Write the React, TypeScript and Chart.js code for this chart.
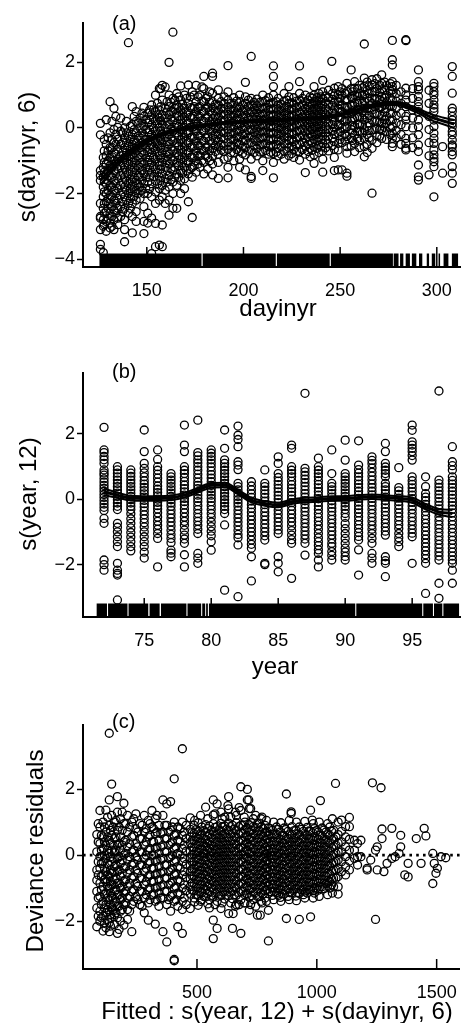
import React, { useEffect, useRef } from "react";
import { Chart, registerables } from "chart.js";

Chart.register(...registerables);

const FONT = '"Liberation Sans", Arial, Helvetica, sans-serif';

// ---------------- Panel (a): partial residuals vs dayinyr ----------------
const dayValues = [126, 127.5, 129, 131, 133, 135, 136.5, 138.5, 140.5, 142.5, 144.5, 146.5, 148.5, 150.5, 152.5, 154.5, 156.5, 158, 159.5, 161.5, 163.5, 165.5, 167.5, 169.5, 171.5, 173.5, 175.5, 177.5, 179.5, 181.5, 184, 187, 190, 192, 195, 198, 201, 204, 207, 210, 213, 215.5, 218, 221, 223.5, 226, 229, 232, 234.5, 236.5, 239, 241, 244, 245.7, 247, 249, 251, 253.5, 255.7, 257.5, 260, 262.5, 264, 266.5, 269, 271.5, 274, 277, 281.5, 284, 287.5, 290.5, 296, 298.5, 303, 308,
  128, 130, 132, 134, 137.5, 139.5, 141.5, 143.5, 145.5, 147.5, 149.5, 151.5, 153.5, 155.5, 157.2, 160.5, 162.5, 164.5, 166.5, 168.5, 170.5, 172.5, 174.5, 176.5, 178.5, 180.5, 182.5,
  185.5, 188.5, 193.5, 196.5, 199.5, 202.5, 205.5, 208.5, 211.5, 214, 217, 219.5, 222.5, 225, 227.5, 230.5, 233.5, 235.5, 238, 240, 242.5, 246,
  250, 252.5, 256.5, 259, 261.5, 265, 268, 270.5, 273, 276, 279];
const dayResiduals = [
  [0.14, -0.21, -1.3, -1.45, -1.6, -2.3, -2.7, -2.75, -3.1, -3.55, -3.7],
  [-0.9, -1.2, -1.5, -1.8, -2.1, -2.45, -2.8, -3.0, -3.8],
  [0.25, -0.5, -0.85, -1.1, -1.4, -1.7, -2.0, -2.25, -2.55, -2.85, -3.15],
  [0.8, -0.15, -0.6, -0.9, -1.15, -1.45, -1.75, -2.05, -2.3, -2.6, -2.9, -3.05],
  [0.6, -0.05, -0.45, -0.75, -1.0, -1.3, -1.6, -1.9, -2.2, -2.5, -2.8, -3.1],
  [0.02, -0.35, -0.65, -0.95, -1.25, -1.55, -1.85, -2.15, -2.45, -2.75, -2.95],
  [0.3, -0.1, -0.5, -0.85, -1.15, -1.45, -1.75, -2.05, -2.4, -2.7],
  [0.0, -0.3, -0.6, -0.9, -1.2, -1.5, -1.8, -2.1, -2.45, -2.8, -3.1, -3.47],
  [2.6, -0.25, -0.55, -0.85, -1.1, -1.4, -1.7, -2.0, -2.3, -2.6],
  [0.65, 0.1, -0.2, -0.5, -0.8, -1.05, -1.35, -1.65, -1.95, -2.3, -2.7, -3.2],
  [0.5, 0.2, -0.15, -0.45, -0.7, -1.0, -1.3, -1.6, -1.9, -2.2, -2.55, -2.85],
  [0.3, 0.0, -0.3, -0.6, -0.9, -1.2, -1.5, -1.8, -2.15],
  [0.63, 0.35, 0.05, -0.25, -0.5, -0.8, -1.1, -1.4, -1.7, -2.0, -2.4, -2.85, -3.22],
  [0.45, 0.15, -0.15, -0.45, -0.75, -1.05, -1.35, -1.65, -2.0, -2.6, -2.9],
  [0.7, 0.4, 0.1, -0.2, -0.5, -0.75, -1.05, -1.35, -1.7, -2.1, -2.75, -3.83],
  [1.0, 0.5, 0.22, -0.08, -0.38, -0.65, -0.95, -1.25, -1.6, -1.95, -2.3, -2.91, -3.62],
  [1.2, 0.55, 0.3, 0.02, -0.28, -0.55, -0.85, -1.15, -1.5, -1.85, -2.2, -3.57],
  [1.3, 0.85, 0.4, 0.12, -0.18, -0.45, -0.75, -1.05, -1.4, -1.75, -2.1, -2.96, -3.62],
  [1.25, 0.6, 0.3, 0.0, -0.3, -0.6, -0.9, -1.2, -1.55, -1.9, -2.3],
  [2.0, 1.0, 0.65, 0.4, 0.1, -0.2, -0.5, -0.8, -1.1, -1.45, -1.8, -2.2, -2.66],
  [2.92, 0.9, 0.5, 0.2, -0.1, -0.4, -0.7, -1.0, -1.3, -1.65, -2.0, -2.45],
  [1.05, 0.7, 0.45, 0.15, -0.15, -0.45, -0.75, -1.05, -1.4, -1.75, -2.45],
  [1.28, 0.85, 0.55, 0.25, -0.05, -0.35, -0.65, -0.95, -1.3, -1.6, -2.0],
  [1.0, 0.6, 0.32, 0.02, -0.28, -0.58, -0.9, -1.2, -1.55, -1.85],
  [1.31, 0.75, 0.45, 0.15, -0.15, -0.45, -0.75, -1.05, -1.4, -2.25],
  [1.1, 0.6, 0.3, 0.02, -0.28, -0.58, -0.9, -1.2, -1.5, -2.73],
  [1.3, 0.8, 0.5, 0.2, -0.1, -0.4, -0.7, -1.0, -1.35],
  [1.0, 0.65, 0.35, 0.05, -0.25, -0.55, -0.85, -1.2],
  [1.57, 1.2, 0.8, 0.5, 0.2, -0.1, -0.4, -0.7, -1.05, -1.4],
  [0.95, 0.62, 0.32, 0.02, -0.28, -0.58, -0.9, -1.25],
  [1.67, 1.57, 1.06, 0.8, 0.62, 0.45, 0.28, 0.1, -0.08, -0.25, -0.45, -0.62, -0.85, -1.1, -1.43],
  [1.16, 0.9, 0.7, 0.52, 0.33, 0.15, -0.02, -0.2, -0.4, -0.58, -0.8, -1.05, -1.54],
  [0.95, 0.75, 0.58, 0.4, 0.22, 0.05, -0.15, -0.33, -0.55, -0.72, -0.95],
  [1.9, 1.1, 0.85, 0.65, 0.48, 0.3, 0.12, -0.06, -0.25, -0.45, -0.65, -0.9, -1.2, -1.52],
  [0.92, 0.74, 0.55, 0.38, 0.2, 0.02, -0.17, -0.36, -0.55, -0.75, -1.0],
  [1.0, 0.8, 0.62, 0.44, 0.26, 0.08, -0.1, -0.28, -0.5, -0.7, -0.95, -1.2],
  [1.39, 0.95, 0.75, 0.56, 0.38, 0.2, 0.02, -0.18, -0.38, -0.6, -0.82, -1.28],
  [2.18, 0.9, 0.7, 0.5, 0.33, 0.15, -0.05, -0.25, -0.45, -0.68, -0.95, -1.54, -1.48],
  [0.88, 0.68, 0.5, 0.32, 0.14, -0.04, -0.22, -0.42, -0.62, -0.85],
  [1.0, 0.8, 0.6, 0.42, 0.24, 0.06, -0.12, -0.3, -0.5, -0.72, -1.0, -1.3],
  [0.92, 0.72, 0.54, 0.36, 0.18, 0.0, -0.18, -0.38, -0.58, -0.8],
  [1.89, 1.57, 1.26, 1.0, 0.78, 0.58, 0.4, 0.22, 0.04, -0.15, -0.35, -0.55, -0.78, -1.05, -1.52],
  [0.9, 0.7, 0.52, 0.34, 0.16, -0.02, -0.2, -0.4, -0.62, -0.85],
  [1.05, 0.82, 0.62, 0.44, 0.26, 0.08, -0.1, -0.28, -0.48, -0.7, -0.95],
  [1.26, 0.95, 0.75, 0.56, 0.38, 0.2, 0.02, -0.18, -0.38, -0.6, -0.85],
  [0.92, 0.72, 0.54, 0.36, 0.18, 0.0, -0.2, -0.42, -0.65, -0.9],
  [1.89, 1.41, 1.05, 0.85, 0.65, 0.47, 0.29, 0.11, -0.08, -0.28, -0.5, -0.72, -0.98],
  [1.0, 0.8, 0.6, 0.42, 0.24, 0.06, -0.12, -0.32, -0.55, -0.8, -1.36],
  [0.95, 0.75, 0.56, 0.38, 0.2, 0.02, -0.18, -0.4, -0.62, -0.88],
  [1.26, 1.0, 0.8, 0.6, 0.42, 0.24, 0.05, -0.15, -0.35, -0.58, -0.82, -1.08],
  [1.05, 0.85, 0.65, 0.47, 0.29, 0.1, -0.1, -0.3, -0.52, -0.75],
  [1.45, 1.1, 0.9, 0.7, 0.5, 0.32, 0.14, -0.05, -0.25, -0.47, -0.7, -0.95, -1.35],
  [1.15, 0.92, 0.72, 0.52, 0.34, 0.15, -0.05, -0.25, -0.48, -0.7],
  [2.03],
  [1.21, 0.98, 0.78, 0.58, 0.4, 0.2, 0.0, -0.2, -0.42, -0.65, -0.9, -1.3],
  [1.26, 1.01, 0.8, 0.6, 0.35, 0.09, -0.16, -0.47, -0.67, -1.28],
  [1.2, 1.0, 0.7, 0.5, 0.25, 0.0, -0.25, -0.45, -1.28],
  [1.36, 1.11, 0.85, 0.65, 0.45, 0.24, 0.04, -0.26, -0.57, -0.77, -1.38, -1.47],
  [1.77, 1.2, 0.95, 0.7, 0.45, 0.2, -0.05, -0.3, -0.55],
  [1.41, 1.21, 1.01, 0.75, 0.55, 0.3, 0.04, -0.21, -0.47, -0.72],
  [1.3, 1.05, 0.85, 0.55, 0.35, 0.1, -0.1, -0.4, -0.6],
  [2.56, 1.52, 1.26, 1.01, 0.8, 0.6, 0.4, 0.24, -0.06, -0.32, -0.57, -0.88],
  [1.4, 1.15, 0.9, 0.6, 0.3, 0.05, -0.2, -0.5, -0.75],
  [1.47, 1.31, 1.11, 0.91, 0.75, 0.55, 0.24, -0.06, -0.37, -0.62, -1.99],
  [1.5, 1.2, 0.9, 0.7, 0.45, 0.2, 0.0, -0.25, -0.45],
  [1.62, 1.36, 1.16, 0.96, 0.8, 0.65, 0.35, 0.14, -0.06, -0.32],
  [1.3, 1.0, 0.8, 0.6, 0.35, 0.15, -0.1, -0.35],
  [2.67, 2.08, 1.92, 1.41, 1.26, 1.16, 1.06, 0.85, 0.65, 0.45, 0.24, 0.04, -0.16, -0.32, -0.47, -0.57],
  [1.1, 0.75, 0.45, 0.1, -0.2, -0.5],
  [2.69, 2.66, 1.21, 1.01, 0.85, 0.65, 0.35, 0.24, 0.04, -0.32, -0.47, -0.62, -0.67],
  [1.2, 0.9, 0.55, 0.3, 0.0, -0.3, -0.6],
  [1.77, 1.41, 1.26, 1.16, 0.96, 0.8, 0.65, 0.5, 0.24, 0.04, -0.21, -0.52, -0.72, -1.13, -1.49, -1.59],
  [1.15, 0.75, 0.35, -0.05, -0.45, -0.85, -1.43],
  [1.36, 1.26, 1.11, 1.01, 0.85, 0.7, 0.6, 0.5, 0.24, 0.04, -0.16, -0.32, -0.47, -0.67, -0.82, -0.93, -1.03, -1.18, -2.1],
  [-0.57, -1.38],
  [1.87, 1.57, 1.06, 0.6, 0.5, 0.35, 0.24, 0.14, 0.04, -0.11, -0.21, -0.37, -0.52, -0.57, -0.72, -0.82, -1.18, -1.38, -1.69],
  // denser early-season band
  [-0.35, -0.7, -1.05, -1.35, -1.65, -1.95, -2.3, -2.6, -2.95],
  [-0.3, -0.7, -1.0, -1.3, -1.6, -1.9, -2.15, -2.45, -2.75],
  [0.2, -0.35, -0.6, -0.88, -1.2, -1.5, -1.8, -2.1, -2.4, -2.7, -3.0],
  [0.35, -0.2, -0.5, -0.8, -1.1, -1.4, -1.7, -2.0, -2.3, -2.6],
  [-0.15, -0.45, -0.75, -1.05, -1.35, -1.65, -1.95, -2.25, -2.55],
  [0.2, -0.15, -0.45, -0.75, -1.05, -1.35, -1.62, -1.9, -2.2],
  [0.05, -0.35, -0.65, -0.95, -1.25, -1.55, -1.85, -2.15, -2.45],
  [0.35, -0.05, -0.35, -0.62, -0.9, -1.2, -1.5, -1.78, -2.08],
  [0.15, -0.25, -0.55, -0.85, -1.15, -1.45, -1.72, -2.0],
  [0.45, 0.15, -0.15, -0.45, -0.75, -1.05, -1.3, -1.6, -1.9],
  [0.25, -0.05, -0.35, -0.62, -0.92, -1.22, -1.5, -1.85],
  [0.55, 0.25, -0.05, -0.35, -0.62, -0.9, -1.2, -1.5, -1.85],
  [0.55, 0.28, -0.02, -0.32, -0.6, -0.9, -1.18, -1.48],
  [0.75, 0.4, 0.12, -0.18, -0.48, -0.75, -1.05, -1.35, -1.7],
  [1.2, 0.65, 0.22, -0.08, -0.35, -0.62, -0.92, -1.25, -1.6],
  [0.8, 0.48, 0.18, -0.12, -0.42, -0.72, -1.0, -1.3, -1.65],
  [0.78, 0.5, 0.25, -0.05, -0.35, -0.65, -0.95, -1.25, -1.58],
  [0.85, 0.6, 0.32, 0.02, -0.28, -0.58, -0.88, -1.2, -1.5],
  [0.95, 0.62, 0.35, 0.05, -0.25, -0.55, -0.85, -1.15, -1.5],
  [0.72, 0.45, 0.15, -0.15, -0.45, -0.75, -1.05, -1.38],
  [0.9, 0.48, 0.2, -0.1, -0.4, -0.7, -1.0, -1.3],
  [0.95, 0.62, 0.32, 0.02, -0.3, -0.6, -0.9, -1.25],
  [1.0, 0.65, 0.35, 0.05, -0.25, -0.55, -0.85, -1.15],
  [0.95, 0.62, 0.34, 0.06, -0.24, -0.54, -0.84, -1.1],
  [1.25, 0.82, 0.52, 0.22, -0.08, -0.38, -0.68, -1.0],
  [0.9, 0.6, 0.3, 0.0, -0.3, -0.6, -0.85],
  [1.1, 0.78, 0.5, 0.2, -0.1, -0.4, -0.7, -1.0],
  // denser mid-season core
  [0.72, 0.52, 0.36, 0.18, 0.0, -0.17, -0.35, -0.53, -0.72],
  [0.8, 0.6, 0.42, 0.24, 0.06, -0.11, -0.3, -0.5, -0.68],
  [0.75, 0.56, 0.38, 0.21, 0.03, -0.16, -0.35, -0.55, -0.75],
  [0.82, 0.64, 0.46, 0.28, 0.1, -0.08, -0.27, -0.46, -0.66],
  [0.7, 0.52, 0.34, 0.16, -0.02, -0.2, -0.39, -0.58, -0.78],
  [0.85, 0.66, 0.47, 0.29, 0.11, -0.08, -0.28, -0.48, -0.7],
  [0.78, 0.6, 0.42, 0.24, 0.06, -0.14, -0.34, -0.54, -0.75],
  [0.78, 0.59, 0.41, 0.23, 0.05, -0.13, -0.32, -0.52, -0.73],
  [0.83, 0.63, 0.45, 0.27, 0.09, -0.09, -0.28, -0.48, -0.69],
  [0.75, 0.57, 0.39, 0.21, 0.03, -0.15, -0.34, -0.54, -0.74],
  [0.8, 0.61, 0.43, 0.25, 0.07, -0.11, -0.3, -0.5, -0.73],
  [0.72, 0.53, 0.35, 0.17, -0.01, -0.19, -0.38, -0.58, -0.8],
  [0.85, 0.66, 0.47, 0.29, 0.11, -0.07, -0.27, -0.48, -0.7],
  [0.76, 0.57, 0.39, 0.21, 0.03, -0.16, -0.36, -0.56, -0.78],
  [0.82, 0.63, 0.45, 0.27, 0.09, -0.1, -0.3, -0.5, -0.72],
  [0.9, 0.7, 0.52, 0.33, 0.15, -0.04, -0.24, -0.44, -0.66],
  [0.85, 0.66, 0.47, 0.29, 0.11, -0.08, -0.28, -0.5, -0.72],
  [0.9, 0.7, 0.51, 0.33, 0.14, -0.05, -0.25, -0.46, -0.68],
  [0.92, 0.73, 0.55, 0.37, 0.19, 0.0, -0.2, -0.4, -0.62],
  [0.95, 0.78, 0.6, 0.41, 0.23, 0.04, -0.15, -0.36, -0.58],
  [0.98, 0.8, 0.61, 0.43, 0.24, 0.05, -0.15, -0.36, -0.6],
  [1.05, 0.87, 0.68, 0.49, 0.3, 0.1, -0.1, -0.31, -0.54],
  // denser late-season core
  [1.1, 0.9, 0.7, 0.5, 0.3, 0.1, -0.1, -0.35],
  [1.05, 0.85, 0.62, 0.42, 0.2, 0.0, -0.2, -0.4],
  [1.1, 0.9, 0.68, 0.48, 0.27, 0.07, -0.15, -0.38],
  [1.2, 0.98, 0.76, 0.55, 0.33, 0.12, -0.1, -0.32],
  [1.22, 0.98, 0.75, 0.52, 0.3, 0.1, -0.15],
  [1.28, 1.05, 0.82, 0.6, 0.38, 0.15, -0.08, -0.3],
  [1.35, 1.1, 0.87, 0.64, 0.42, 0.2, -0.05],
  [1.3, 1.08, 0.86, 0.62, 0.4, 0.18, -0.05, -0.25],
  [1.4, 1.15, 0.92, 0.7, 0.48, 0.25, 0.02],
  [1.35, 1.12, 0.9, 0.68, 0.45, 0.22, 0.0, -0.2],
  [1.3, 1.05, 0.82, 0.6, 0.38, 0.15, -0.08, -0.3],
];
const dayFitX = [126, 133, 140, 147, 155, 163, 171, 180, 190, 200, 210, 220, 230, 240, 250, 258, 265, 272, 279, 285, 291, 297, 303, 309];
const dayFit = [-1.59, -1.15, -0.8, -0.5, -0.26, -0.1, 0.0, 0.08, 0.15, 0.19, 0.21, 0.24, 0.27, 0.31, 0.4, 0.52, 0.64, 0.73, 0.75, 0.65, 0.5, 0.33, 0.22, 0.12];
const dayFitUpper = [-1.45, -1.05, -0.72, -0.44, -0.21, -0.06, 0.04, 0.11, 0.18, 0.22, 0.24, 0.27, 0.3, 0.34, 0.43, 0.56, 0.68, 0.78, 0.8, 0.71, 0.57, 0.42, 0.32, 0.24];
const dayFitLower = [-1.73, -1.25, -0.88, -0.56, -0.31, -0.14, -0.04, 0.05, 0.12, 0.16, 0.18, 0.21, 0.24, 0.28, 0.37, 0.48, 0.6, 0.68, 0.7, 0.59, 0.43, 0.24, 0.12, 0.0];
const dayTicks = [150, 200, 250, 300];
const dayYTicks = [-4, -2, 0, 2];
const dayRugSpans = [[125.5, 178.3], [178.9, 216.7], [217.3, 244.6], [245.2, 277.3], [277.7, 280.2], [281, 282.7], [283.9, 286.1], [287.1, 289.4], [290.8, 292.5], [294.8, 296], [297.4, 299.2], [300.9, 301.7], [303.5, 306], [307.8, 311]];

// ---------------- Panel (b): partial residuals vs year ----------------
const yearValues = [72, 73, 74, 75, 76, 77, 78, 79, 80, 81, 82, 83, 84, 85, 86, 87, 88, 89, 90, 91, 92, 93, 94, 95, 96, 97, 98];
const yearResiduals = [
  [2.19, 1.5, 1.42, 1.3, 1.2, 1.09, 0.89, 0.8, 0.73, 0.62, 0.52, 0.42, 0.33, 0.24, 0.14, 0.05, -0.05, -0.15, -0.25, -0.35, -0.59, -0.74, -1.86, -2.0, -2.17],
  [0.99, 0.89, 0.79, 0.68, 0.58, 0.48, 0.38, 0.28, 0.18, 0.08, -0.02, -0.12, -0.22, -0.32, -0.74, -0.86, -1.0, -1.15, -1.3, -1.45, -1.96, -2.17, -2.27, -2.32, -3.08],
  [0.89, 0.79, 0.69, 0.58, 0.48, 0.38, 0.28, 0.18, 0.08, -0.02, -0.12, -0.22, -0.32, -0.45, -0.6, -0.74, -0.88, -1.02, -1.16, -1.3, -1.45, -1.58],
  [2.11, 1.45, 1.09, 0.94, 0.8, 0.68, 0.56, 0.46, 0.36, 0.26, 0.16, 0.06, -0.04, -0.14, -0.24, -0.36, -0.48, -0.6, -0.72, -0.85, -1.0, -1.15, -1.3, -1.45, -1.62, -1.8],
  [1.5, 1.21, 0.99, 0.88, 0.76, 0.64, 0.52, 0.4, 0.3, 0.2, 0.1, 0.0, -0.1, -0.2, -0.3, -0.42, -0.55, -0.68, -0.8, -0.92, -1.05, -1.2, -2.07],
  [0.78, 0.68, 0.58, 0.48, 0.38, 0.28, 0.18, 0.08, -0.02, -0.12, -0.22, -0.34, -0.46, -0.58, -0.7, -0.82, -0.95, -1.08, -1.2, -1.33, -1.56, -1.65, -1.76],
  [2.26, 1.65, 1.45, 0.99, 0.88, 0.78, 0.66, 0.54, 0.43, 0.32, 0.22, 0.12, 0.02, -0.08, -0.18, -0.3, -0.42, -0.55, -0.68, -0.8, -0.95, -1.1, -1.22, -1.35, -1.7, -2.07],
  [2.41, 1.42, 1.32, 1.2, 1.1, 0.99, 0.88, 0.76, 0.64, 0.52, 0.42, 0.32, 0.22, 0.12, 0.02, -0.08, -0.2, -0.32, -0.44, -0.56, -0.68, -0.8, -0.92, -1.05, -1.66, -1.8, -1.96],
  [1.5, 1.4, 1.3, 1.2, 1.09, 0.98, 0.86, 0.75, 0.64, 0.53, 0.42, 0.32, 0.22, 0.12, 0.02, -0.08, -0.2, -0.32, -0.44, -0.56, -0.7, -0.84, -0.98, -1.12, -1.3, -1.56],
  [2.11, 1.55, 1.2, 1.09, 0.98, 0.88, 0.78, 0.68, 0.58, 0.48, 0.38, 0.28, 0.18, 0.08, -0.02, -0.12, -0.22, -0.32, -0.44, -0.79, -2.78],
  [2.23, 1.95, 1.82, 1.6, 1.14, 1.04, 0.9, 0.48, 0.38, 0.28, 0.18, 0.08, -0.02, -0.12, -0.22, -0.34, -0.46, -0.58, -0.7, -0.82, -0.95, -1.08, -1.18, -1.4, -2.98],
  [0.53, 0.4, 0.28, 0.16, 0.05, -0.06, -0.17, -0.28, -0.4, -0.52, -0.64, -0.76, -0.88, -1.0, -1.12, -1.25, -1.38, -1.5, -1.76, -2.5],
  [0.89, 0.48, 0.38, 0.27, 0.16, 0.05, -0.06, -0.17, -0.28, -0.4, -0.52, -0.64, -0.76, -0.88, -1.0, -1.12, -1.25, -1.96, -2.0],
  [1.29, 1.09, 0.78, 0.66, 0.55, 0.44, 0.33, 0.22, 0.11, 0.0, -0.11, -0.22, -0.34, -0.46, -0.58, -0.7, -0.82, -0.94, -1.05, -1.76, -1.96, -2.22],
  [1.65, 1.55, 0.99, 0.88, 0.78, 0.68, 0.55, 0.44, 0.33, 0.22, 0.11, 0.0, -0.11, -0.22, -0.34, -0.46, -0.58, -0.7, -0.82, -0.96, -1.1, -1.24, -1.35, -2.42],
  [3.23, 0.94, 0.83, 0.72, 0.61, 0.5, 0.39, 0.28, 0.17, 0.06, -0.05, -0.16, -0.27, -0.38, -0.5, -0.62, -0.74, -0.86, -0.98, -1.1, -1.22, -1.35, -1.71],
  [1.25, 0.99, 0.88, 0.78, 0.68, 0.56, 0.45, 0.34, 0.23, 0.12, 0.01, -0.1, -0.21, -0.32, -0.44, -0.56, -0.68, -0.8, -0.92, -1.05, -1.18, -1.3, -1.42, -1.55, -1.66, -1.86, -2.07],
  [1.5, 0.78, 0.48, 0.38, 0.28, 0.17, 0.06, -0.05, -0.16, -0.27, -0.38, -0.5, -0.62, -0.74, -0.86, -0.98, -1.1, -1.22, -1.35, -1.45, -1.6, -1.72, -1.86],
  [1.8, 1.19, 0.78, 0.68, 0.58, 0.48, 0.38, 0.28, 0.18, 0.08, -0.02, -0.12, -0.22, -0.32, -0.44, -0.56, -0.75, -0.9, -1.05, -1.2, -1.35, -1.5, -1.62, -1.75, -1.86],
  [1.78, 1.04, 0.9, 0.79, 0.68, 0.57, 0.46, 0.35, 0.24, 0.13, 0.02, -0.09, -0.2, -0.31, -0.42, -0.54, -0.66, -0.78, -0.9, -1.02, -1.14, -1.25, -1.55, -2.32],
  [1.29, 1.18, 1.08, 0.95, 0.82, 0.7, 0.58, 0.46, 0.35, 0.24, 0.13, 0.02, -0.09, -0.2, -0.32, -0.44, -0.56, -0.68, -0.8, -0.92, -1.05, -1.2, -1.35, -1.66, -1.8, -1.96],
  [1.7, 1.45, 1.09, 0.98, 0.88, 0.78, 0.68, 0.48, 0.38, 0.28, 0.17, 0.06, -0.05, -0.16, -0.27, -0.38, -0.5, -0.62, -0.74, -0.86, -0.98, -1.1, -1.76, -1.88, -1.96, -2.37],
  [0.96, 0.35, 0.25, 0.14, 0.03, -0.08, -0.19, -0.3, -0.42, -0.54, -0.66, -0.78, -0.9, -1.05, -1.18, -1.3, -1.45],
  [2.26, 2.1, 1.75, 1.65, 1.55, 1.45, 1.33, 1.19, 0.68, 0.56, 0.45, 0.34, 0.23, 0.12, 0.01, -0.1, -0.21, -0.32, -0.44, -0.56, -0.68, -0.8, -0.92, -1.04, -1.15, -1.96],
  [0.68, 0.38, 0.17, 0.06, -0.05, -0.16, -0.27, -0.38, -0.5, -0.62, -0.74, -0.86, -0.98, -1.1, -1.22, -1.34, -1.46, -1.58, -1.7, -1.82, -1.96, -2.88],
  [3.3, 0.58, 0.47, 0.36, 0.25, 0.14, 0.03, -0.08, -0.19, -0.3, -0.42, -0.54, -0.66, -0.78, -0.9, -1.02, -1.14, -1.26, -1.38, -1.5, -1.62, -1.74, -1.86, -2.57, -3.03],
  [1.6, 1.14, 1.02, 0.89, 0.68, 0.57, 0.46, 0.35, 0.24, 0.13, 0.02, -0.09, -0.2, -0.31, -0.42, -0.54, -0.66, -0.78, -0.9, -1.02, -1.14, -1.26, -1.38, -1.5, -1.62, -1.74, -1.86, -1.96, -2.17, -2.57],
];
const yearFit = [0.22, 0.12, 0.03, 0.02, 0.02, 0.04, 0.12, 0.27, 0.42, 0.43, 0.22, -0.03, -0.13, -0.18, -0.08, -0.03, -0.01, 0.02, 0.02, 0.05, 0.07, 0.05, 0.02, -0.03, -0.23, -0.39, -0.44];
const yearFitUpper = [0.32, 0.2, 0.1, 0.09, 0.09, 0.11, 0.19, 0.34, 0.49, 0.5, 0.29, 0.04, -0.06, -0.11, -0.01, 0.04, 0.06, 0.09, 0.09, 0.12, 0.14, 0.12, 0.09, 0.05, -0.15, -0.3, -0.33];
const yearFitLower = [0.12, 0.04, -0.04, -0.05, -0.05, -0.03, 0.05, 0.2, 0.35, 0.36, 0.15, -0.1, -0.2, -0.25, -0.15, -0.1, -0.08, -0.05, -0.05, -0.02, 0.0, -0.02, -0.05, -0.11, -0.31, -0.48, -0.55];
const yearTicks = [75, 80, 85, 90, 95];
const yearYTicks = [-2, 0, 2];
const yearRugSpans = [[71.45, 72.22], [72.3, 73.75], [73.83, 75.3], [75.4, 76.15], [76.25, 78.15], [78.23, 79.25], [79.33, 79.55], [79.62, 79.75], [79.83, 90.75], [90.83, 95.75], [95.83, 96.55], [96.63, 97.25], [97.33, 98.5]];

// ---------------- Panel (c): deviance residuals vs fitted ----------------
const fittedValues = [82, 95, 108, 120, 134, 144, 156, 168, 181, 195, 210, 228, 245, 262, 280, 297, 312, 326, 341, 358, 374, 390, 405, 420, 439, 455, 472, 488, 505, 520, 536, 552, 568, 584, 600, 616, 632, 648, 664, 683, 700, 710, 718, 735, 752, 768, 784, 798, 815, 832, 848, 864, 873, 880, 893, 897, 913, 927, 944, 960, 974, 981, 990, 1006, 1015, 1022, 1038, 1054, 1070, 1078, 1089, 1103, 1120, 1136, 1157, 1170, 1184, 1210, 1225, 1232, 1245, 1252, 1268, 1272, 1280, 1293, 1313, 1327, 1343, 1350, 1367, 1381, 1415, 1435, 1448, 1455, 1484, 1490, 1497, 1503, 1518, 1538,
  88, 101, 114, 127, 139, 150, 162, 175, 188, 202, 219, 236, 253, 271, 288, 304, 319, 333, 349, 366, 382, 397, 412, 430, 447,
  480, 496, 512, 528, 544, 560, 576, 592, 608, 624, 640, 656, 674, 692, 709, 726, 744, 760, 776, 791, 806, 823, 840, 856, 871, 888, 905, 920, 936, 952, 967, 983, 998, 1014, 1030, 1046, 1062, 1080,
  490, 515, 545, 575, 605, 629, 641, 651, 660, 676, 697, 716, 724, 745, 764, 771, 790, 820, 850, 885, 915, 950, 985, 1010, 1045, 1065];
const devianceResiduals = [
  [0.62, 0.1, -0.45, -0.76, -1.1, -1.6, -2.17],
  [1.35, 0.85, 0.35, -0.05, -0.4, -0.85, -1.25, -1.7, -2.0],
  [1.0, 0.55, 0.2, -0.2, -0.6, -0.95, -1.4, -1.85, -2.3],
  [1.36, 0.7, 0.3, -0.1, -0.5, -0.8, -1.15, -1.5, -1.75, -2.2],
  [3.69, 1.67, 0.9, 0.45, 0.05, -0.3, -0.65, -1.0, -1.35, -1.7, -2.05, -2.32],
  [2.15, 1.2, 0.6, 0.15, -0.2, -0.55, -0.9, -1.25, -1.6, -1.9],
  [1.0, 0.5, 0.1, -0.35, -0.75, -1.1, -1.45, -1.8, -2.1],
  [1.77, 1.3, 0.75, 0.3, -0.1, -0.5, -0.85, -1.2, -1.55, -1.9, -2.37],
  [1.1, 0.55, 0.15, -0.25, -0.65, -1.0, -1.35, -1.7, -2.0],
  [1.57, 0.95, 0.4, 0.0, -0.4, -0.8, -1.15, -1.5, -2.12],
  [1.2, 0.7, 0.25, -0.15, -0.55, -0.95, -1.3, -1.65, -1.95],
  [1.0, 0.55, 0.1, -0.3, -0.7, -1.1, -1.5, -2.32],
  [1.25, 0.8, 0.35, -0.05, -0.45, -0.85, -1.25],
  [0.95, 0.5, 0.1, -0.3, -0.7, -1.1, -1.5],
  [1.2, 0.7, 0.3, -0.1, -0.5, -0.9, -1.3, -1.75],
  [1.05, 0.55, 0.15, -0.25, -0.65, -1.05, -1.45, -1.97],
  [1.35, 0.85, 0.4, 0.0, -0.4, -0.8, -1.2],
  [1.1, 0.65, 0.2, -0.2, -0.6, -1.0, -1.4, -2.09],
  [0.9, 0.45, 0.05, -0.35, -0.75, -1.15, -1.55],
  [1.67, 1.2, 0.7, 0.3, -0.1, -0.5, -0.9, -1.3, -2.32],
  [1.55, 0.9, 0.5, 0.1, -0.3, -0.7, -1.1, -1.5, -2.63],
  [1.62, 0.75, 0.35, -0.05, -0.45, -0.85, -1.25, -1.7],
  [2.31, 1.0, 0.6, 0.2, -0.2, -0.6, -1.0, -1.4, -3.16, -3.2],
  [0.85, 0.45, 0.05, -0.35, -0.75, -1.15, -1.55, -2.17],
  [3.22, 1.0, 0.6, 0.2, -0.2, -0.6, -1.0, -1.4, -1.65, -2.37],
  [0.9, 0.5, 0.12, -0.28, -0.68, -1.08, -1.5],
  [1.13, 0.78, 0.55, 0.37, 0.12, -0.08, -0.31, -0.5, -0.72, -0.95, -1.18, -1.62],
  [0.9, 0.66, 0.44, 0.22, 0.02, -0.2, -0.41, -0.63, -0.86, -1.09, -1.3],
  [0.98, 0.72, 0.5, 0.3, 0.08, -0.13, -0.35, -0.56, -0.78, -1.0, -1.22, -1.52],
  [0.85, 0.6, 0.38, 0.17, -0.04, -0.26, -0.47, -0.69, -0.9, -1.14, -1.35],
  [1.45, 0.92, 0.7, 0.47, 0.26, 0.05, -0.16, -0.38, -0.6, -0.82, -1.05, -1.27],
  [0.88, 0.63, 0.4, 0.2, -0.02, -0.24, -0.45, -0.66, -0.88, -1.1, -1.35, -1.6],
  [1.67, 1.21, 0.95, 0.72, 0.5, 0.28, 0.07, -0.14, -0.36, -0.57, -0.8, -1.02, -1.25, -1.97, -2.53],
  [1.55, 0.86, 0.62, 0.4, 0.18, -0.03, -0.24, -0.46, -0.68, -0.9, -1.13, -1.4, -2.22],
  [1.3, 0.96, 0.73, 0.51, 0.3, 0.09, -0.12, -0.34, -0.55, -0.77, -1.0, -1.22, -1.62],
  [1.15, 0.88, 0.64, 0.42, 0.2, -0.01, -0.22, -0.44, -0.66, -0.88, -1.1, -1.33],
  [1.77, 1.4, 0.97, 0.75, 0.53, 0.31, 0.1, -0.12, -0.33, -0.55, -0.77, -1.0, -1.23, -1.77],
  [0.9, 0.66, 0.44, 0.22, 0.0, -0.22, -0.43, -0.65, -0.87, -1.09, -1.32, -2.22],
  [1.2, 0.98, 0.75, 0.53, 0.31, 0.1, -0.12, -0.34, -0.56, -0.78, -1.0, -1.22, -1.5],
  [2.07, 1.35, 0.9, 0.66, 0.44, 0.22, 0.01, -0.21, -0.43, -0.65, -0.87, -1.1, -1.35, -2.37],
  [1.0, 0.77, 0.55, 0.33, 0.12, -0.1, -0.32, -0.54, -0.76, -0.98, -1.2, -1.45],
  [1.99, 1.67],
  [1.41, 0.92, 0.7, 0.48, 0.26, 0.05, -0.17, -0.39, -0.61, -0.83, -1.05, -1.28, -1.67],
  [1.1, 0.86, 0.64, 0.42, 0.2, -0.02, -0.24, -0.46, -0.68, -0.9, -1.12, -1.35],
  [0.95, 0.73, 0.51, 0.29, 0.08, -0.14, -0.36, -0.58, -0.8, -1.02, -1.25, -1.82],
  [1.1, 0.85, 0.62, 0.4, 0.18, -0.03, -0.25, -0.47, -0.69, -0.91, -1.14, -1.4],
  [0.9, 0.68, 0.46, 0.24, 0.03, -0.19, -0.41, -0.63, -0.85, -1.07, -1.3],
  [0.82, 0.6, 0.38, 0.16, -0.05, -0.27, -0.49, -0.71, -0.93, -1.16, -1.67, -2.6],
  [0.75, 0.52, 0.3, 0.09, -0.12, -0.34, -0.56, -0.78, -1.0, -1.22],
  [0.85, 0.62, 0.4, 0.18, -0.03, -0.25, -0.47, -0.69, -0.91, -1.14],
  [0.7, 0.48, 0.26, 0.05, -0.17, -0.39, -0.61, -0.83, -1.05, -1.28],
  [0.82, 0.58, 0.36, 0.14, -0.07, -0.29, -0.51, -0.73, -0.95, -1.18],
  [1.85, -1.92],
  [0.72, 0.5, 0.28, 0.06, -0.15, -0.37, -0.59, -0.81, -1.03, -1.25],
  [1.31, 1.26],
  [0.86, 0.62, 0.4, 0.18, -0.04, -0.26, -0.48, -0.7, -0.92, -1.14],
  [0.75, 0.52, 0.3, 0.08, -0.14, -0.36, -0.58, -0.8, -1.02, -1.24],
  [0.85, 0.6, 0.38, 0.16, -0.06, -0.28, -0.5, -0.72, -0.94, -1.16, -1.95],
  [0.72, 0.5, 0.28, 0.06, -0.16, -0.38, -0.6, -0.82, -1.04, -1.2],
  [0.84, 0.6, 0.38, 0.16, -0.06, -0.28, -0.5, -0.72, -0.94, -1.15],
  [1.36, 0.72, 0.5, 0.28, 0.06, -0.16, -0.38, -0.6, -0.82, -1.04, -1.87],
  [1.06],
  [0.8, 0.56, 0.34, 0.12, -0.1, -0.32, -0.54, -0.76, -0.98, -1.15],
  [0.7, 0.48, 0.26, 0.04, -0.18, -0.4, -0.62, -0.84, -1.06],
  [1.65],
  [0.82, 0.58, 0.36, 0.14, -0.08, -0.3, -0.52, -0.74, -0.96],
  [0.7, 0.46, 0.24, 0.02, -0.2, -0.42, -0.64, -0.86],
  [0.85, 0.6, 0.36, 0.12, -0.1, -0.34, -0.58, -0.8, -1.0],
  [0.75, 0.5, 0.26, 0.02, -0.22, -0.46, -0.7, -0.96],
  [2.17],
  [1.0, 0.62, 0.36, 0.1, -0.15, -0.4, -0.65, -0.96, -1.18],
  [1.06, 0.72, 0.4, 0.1, -0.2, -0.5],
  [0.86, 0.55, 0.25, -0.05, -0.35, -0.6],
  [1.14, 0.86, 0.48, 0.15, -0.18, -0.45],
  [0.45, 0.15, -0.1],
  [0.35, -0.05, -0.3],
  [0.45, -0.05],
  [-0.4, -0.45],
  [-0.15],
  [2.19],
  [0.15, -1.95],
  [0.25, -0.45],
  [2.04],
  [0.79, 0.5],
  [-0.5],
  [-0.25],
  [0.81, -0.1],
  [-0.05],
  [0.05],
  [0.6, 0.25],
  [-0.6],
  [-0.66, -0.25],
  [0.5],
  [-0.25],
  [0.81],
  [0.58],
  [0.05, -0.86],
  [-0.25],
  [-0.55],
  [-0.4],
  [-0.05],
  [-0.08],
  // denser low-fitted region
  [0.95, 0.4, -0.2, -0.6, -1.3, -1.85],
  [0.6, 0.15, -0.25, -0.65, -1.05, -1.5, -1.9],
  [0.85, 0.4, 0.0, -0.4, -0.75, -1.2, -1.6, -2.05],
  [1.15, 0.55, 0.15, -0.25, -0.6, -0.95, -1.3, -1.65, -1.95],
  [0.75, 0.35, -0.05, -0.45, -0.8, -1.15, -1.5, -1.8, -2.15],
  [0.85, 0.3, -0.1, -0.5, -0.9, -1.3, -1.65],
  [1.05, 0.55, 0.15, -0.3, -0.7, -1.05, -1.4, -1.75],
  [0.85, 0.35, -0.05, -0.45, -0.85, -1.2, -1.55, -2.25],
  [1.3, 0.75, 0.3, -0.15, -0.55, -0.95, -1.3, -1.65],
  [0.95, 0.45, 0.05, -0.35, -0.75, -1.1, -1.45],
  [0.85, 0.35, -0.05, -0.45, -0.85, -1.25, -1.7],
  [1.1, 0.6, 0.15, -0.25, -0.65, -1.05, -1.4],
  [0.7, 0.25, -0.15, -0.55, -0.95, -1.35],
  [0.9, 0.5, 0.1, -0.3, -0.7, -1.1, -1.55],
  [0.8, 0.4, 0.0, -0.4, -0.8, -1.2],
  [0.95, 0.6, 0.2, -0.2, -0.6, -1.0, -1.35],
  [0.8, 0.4, 0.0, -0.4, -0.8, -1.2],
  [1.2, 0.7, 0.25, -0.15, -0.55, -0.95, -1.35],
  [0.65, 0.25, -0.15, -0.55, -0.95, -1.3],
  [0.9, 0.5, 0.1, -0.3, -0.7, -1.1],
  [0.7, 0.3, -0.1, -0.5, -0.9, -1.35],
  [0.85, 0.4, 0.0, -0.4, -0.8, -1.2],
  [0.65, 0.25, -0.15, -0.55, -0.95, -1.35],
  [0.8, 0.4, 0.0, -0.4, -0.8, -1.2],
  [0.7, 0.3, -0.1, -0.5, -0.9, -1.3],
  // denser central core
  [0.68, 0.45, 0.24, 0.01, -0.21, -0.42, -0.63, -0.84, -1.06],
  [0.77, 0.55, 0.33, 0.11, -0.1, -0.31, -0.52, -0.74, -0.97, -1.2],
  [0.62, 0.4, 0.19, -0.02, -0.24, -0.46, -0.67, -0.89, -1.1],
  [0.74, 0.5, 0.28, 0.06, -0.15, -0.37, -0.58, -0.8, -1.02, -1.25],
  [0.8, 0.58, 0.36, 0.15, -0.06, -0.28, -0.5, -0.72, -0.94, -1.16],
  [0.75, 0.52, 0.3, 0.09, -0.12, -0.34, -0.55, -0.77, -0.99, -1.22],
  [0.84, 0.61, 0.39, 0.17, -0.04, -0.25, -0.47, -0.69, -0.91, -1.14],
  [0.74, 0.52, 0.3, 0.08, -0.13, -0.35, -0.57, -0.79, -1.01, -1.24],
  [0.85, 0.62, 0.4, 0.19, -0.02, -0.23, -0.45, -0.66, -0.88, -1.11],
  [0.77, 0.53, 0.31, 0.09, -0.12, -0.33, -0.55, -0.77, -0.99, -1.21],
  [0.86, 0.64, 0.42, 0.2, -0.01, -0.22, -0.44, -0.66, -0.88, -1.12],
  [0.78, 0.55, 0.33, 0.11, -0.11, -0.33, -0.54, -0.76, -0.98, -1.2],
  [0.86, 0.64, 0.42, 0.2, -0.01, -0.23, -0.45, -0.67, -0.89, -1.13],
  [0.9, 0.66, 0.44, 0.22, 0.01, -0.21, -0.43, -0.65, -0.87, -1.09],
  [0.82, 0.59, 0.37, 0.15, -0.06, -0.28, -0.5, -0.72, -0.94, -1.17],
  [0.98, 0.75, 0.53, 0.31, 0.09, -0.13, -0.35, -0.57, -0.79, -1.01, -1.23],
  [0.84, 0.62, 0.4, 0.18, -0.03, -0.25, -0.47, -0.69, -0.91, -1.13],
  [0.97, 0.73, 0.51, 0.29, 0.07, -0.14, -0.36, -0.58, -0.8, -1.02, -1.26],
  [0.8, 0.57, 0.35, 0.13, -0.08, -0.3, -0.52, -0.74, -0.96, -1.18],
  [0.71, 0.49, 0.27, 0.05, -0.16, -0.38, -0.6, -0.82, -1.04],
  [0.8, 0.63, 0.41, 0.19, -0.02, -0.23, -0.45, -0.67, -0.89, -1.11],
  [0.64, 0.41, 0.19, -0.02, -0.23, -0.45, -0.67, -0.89, -1.11],
  [0.78, 0.51, 0.29, 0.07, -0.14, -0.36, -0.58, -0.8, -1.02, -1.22],
  [0.6, 0.37, 0.15, -0.06, -0.28, -0.5, -0.72, -0.94, -1.16],
  [0.77, 0.47, 0.25, 0.03, -0.18, -0.4, -0.62, -0.84, -1.06],
  [0.62, 0.39, 0.17, -0.05, -0.26, -0.48, -0.7, -0.92, -1.14],
  [0.74, 0.51, 0.29, 0.07, -0.15, -0.37, -0.59, -0.81, -1.03],
  [0.64, 0.41, 0.19, -0.03, -0.25, -0.47, -0.69, -0.91, -1.13],
  [0.78, 0.49, 0.27, 0.05, -0.17, -0.39, -0.61, -0.83, -1.05],
  [0.62, 0.39, 0.17, -0.05, -0.27, -0.49, -0.71, -0.93, -1.12],
  [0.73, 0.49, 0.27, 0.05, -0.17, -0.39, -0.61, -0.83, -1.05],
  [0.67, 0.45, 0.23, 0.01, -0.21, -0.43, -0.65, -0.87, -1.08],
  [0.74, 0.52, 0.3, 0.08, -0.14, -0.36, -0.58, -0.8, -1.0],
  [0.6, 0.37, 0.15, -0.07, -0.29, -0.51, -0.73, -0.95],
  [0.76, 0.47, 0.25, 0.03, -0.19, -0.41, -0.63, -0.85, -1.02],
  [0.62, 0.38, 0.14, -0.1, -0.32, -0.54, -0.76, -0.92],
  [0.72, 0.47, 0.23, -0.01, -0.24, -0.48, -0.72, -0.9],
  [0.55, 0.3, 0.05, -0.2, -0.45, -0.7],
  // ragged edges of the core
  [1.05, -1.42],
  [1.2, -1.4],
  [1.1, -1.48],
  [1.25, -1.5],
  [1.1, -1.45],
  [1.5],
  [1.15, -1.45],
  [-1.77],
  [1.3, -1.55],
  [1.44, -1.5],
  [1.15, -1.45],
  [1.67],
  [1.41, -1.5],
  [1.2, -1.55],
  [-1.82],
  [1.15, -1.45],
  [1.05, -1.4],
  [1.0, -1.35],
  [0.98, -1.4],
  [1.05, -1.35],
  [1.0, -1.38],
  [1.02, -1.3],
  [0.95, -1.3],
  [1.0, -1.25],
  [0.95, -1.2],
  [1.1, -1.15],
];
const fittedTicks = [500, 1000, 1500];
const devianceYTicks = [-2, 0, 2];

// axis limits (data units)
const dayRange = { xMin: 117, xMax: 312, yMin: -4.24, yMax: 3.2 };
const yearRange = { xMin: 70.43, xMax: 98.57, yMin: -3.6, yMax: 3.85 };
const fittedRange = { xMin: 24.4, xMax: 1597, yMin: -3.45, yMax: 3.94 };

type Pt = { x: number; y: number };
type LineSpec = { data: Pt[]; width: number; dash?: number[] };
type PanelSpec = {
  top: number;
  height: number;
  rightPad: number;
  range: { xMin: number; xMax: number; yMin: number; yMax: number };
  xTicks: number[];
  yTicks: number[];
  points: Pt[];
  lines: LineSpec[];
  rug: number[][] | null;
  inTick: number;
  label: string;
  labelY: number;
  xTitle: string;
  xTitleX: number;
  xTitleY: number;
  yTitle: string;
  yTitleX: number;
  yTitleY: number;
};

const toPoints = (xs: number[], cols: number[][]): Pt[] =>
  xs.flatMap((x, i) => (cols[i] || []).map((y) => ({ x, y })));
const toLine = (xs: number[], ys: number[]): Pt[] => xs.map((x, i) => ({ x, y: ys[i] }));

const panels: PanelSpec[] = [
  {
    top: 0,
    height: 350,
    rightPad: 10,
    range: dayRange,
    xTicks: dayTicks,
    yTicks: dayYTicks,
    points: toPoints(dayValues, dayResiduals),
    lines: [
      { data: toLine(dayFitX, dayFit), width: 3 },
      { data: toLine(dayFitX, dayFitUpper), width: 2 },
      { data: toLine(dayFitX, dayFitLower), width: 2 },
    ],
    rug: dayRugSpans,
    inTick: 20,
    label: "(a)",
    labelY: 29.5,
    xTitle: "dayinyr",
    xTitleX: 278,
    xTitleY: 316,
    yTitle: "s(dayinyr, 6)",
    yTitleX: 35,
    yTitleY: 157,
  },
  {
    top: 350,
    height: 352,
    rightPad: 10,
    range: yearRange,
    xTicks: yearTicks,
    yTicks: yearYTicks,
    points: toPoints(yearValues, yearResiduals),
    lines: [
      { data: toLine(yearValues, yearFit), width: 3 },
      { data: toLine(yearValues, yearFitUpper), width: 2 },
      { data: toLine(yearValues, yearFitLower), width: 2 },
    ],
    rug: yearRugSpans,
    inTick: 19,
    label: "(b)",
    labelY: 28,
    xTitle: "year",
    xTitleX: 275,
    xTitleY: 324,
    yTitle: "s(year, 12)",
    yTitleX: 35.5,
    yTitleY: 144,
  },
  {
    top: 702,
    height: 321,
    rightPad: 0,
    range: fittedRange,
    xTicks: fittedTicks,
    yTicks: devianceYTicks,
    points: toPoints(fittedValues, devianceResiduals),
    lines: [
      {
        data: [
          { x: fittedRange.xMin, y: 0 },
          { x: fittedRange.xMax, y: 0 },
        ],
        width: 2.6,
        dash: [2.6, 4.2],
      },
    ],
    rug: null,
    inTick: 10,
    label: "(c)",
    labelY: 26,
    xTitle: "Fitted : s(year, 12) + s(dayinyr, 6)",
    xTitleX: 277,
    xTitleY: 317,
    yTitle: "Deviance residuals",
    yTitleX: 43,
    yTitleY: 149,
  },
];

const fmt = (v: number) => (v < 0 ? "\u2212" + String(Math.abs(v)) : String(v));

function makeDecor(p: PanelSpec) {
  return {
    id: "decor",
    beforeDatasetsDraw(chart: any) {
      const { ctx, chartArea, scales } = chart;
      if (!p.rug) return;
      ctx.save();
      ctx.fillStyle = "#000";
      const h = 13.5;
      for (const [a, b] of p.rug) {
        const x0 = scales.x.getPixelForValue(a);
        const x1 = scales.x.getPixelForValue(b);
        ctx.fillRect(x0, chartArea.bottom - h, Math.max(1, x1 - x0), h);
      }
      ctx.restore();
    },
    afterDraw(chart: any) {
      const { ctx, chartArea, scales } = chart;
      ctx.save();
      ctx.strokeStyle = "#000";
      ctx.lineWidth = 1.5;
      for (const t of p.xTicks) {
        const x = scales.x.getPixelForValue(t);
        ctx.beginPath();
        ctx.moveTo(x, chartArea.bottom);
        ctx.lineTo(x, chartArea.bottom - p.inTick);
        ctx.stroke();
      }
      ctx.fillStyle = "#000";
      ctx.textBaseline = "alphabetic";
      ctx.textAlign = "center";
      ctx.font = `24px ${FONT}`;
      ctx.fillText(p.xTitle, p.xTitleX, p.xTitleY);
      ctx.save();
      ctx.translate(p.yTitleX, p.yTitleY);
      ctx.rotate(-Math.PI / 2);
      ctx.fillText(p.yTitle, 0, 0);
      ctx.restore();
      ctx.textAlign = "left";
      ctx.font = `20px ${FONT}`;
      ctx.fillText(p.label, 112, p.labelY);
      ctx.restore();
    },
  };
}

function buildConfig(p: PanelSpec): any {
  const datasets: any[] = p.lines.map((l) => ({
    type: "line",
    data: l.data,
    borderColor: "#000",
    borderWidth: l.width,
    borderDash: l.dash || [],
    pointRadius: 0,
    fill: false,
    showLine: true,
    cubicInterpolationMode: "monotone",
    order: 0,
    clip: false,
  }));
  datasets.push({
    type: "scatter",
    data: p.points,
    pointStyle: "circle",
    pointRadius: 4,
    borderColor: "#000",
    backgroundColor: "rgba(0,0,0,0)",
    borderWidth: 1.3,
    order: 1,
    clip: false,
  });
  return {
    type: "scatter",
    data: { datasets },
    plugins: [makeDecor(p)],
    options: {
      responsive: false,
      animation: false,
      events: [],
      layout: { padding: { top: 23, right: p.rightPad, left: 0, bottom: 0 } },
      plugins: { legend: { display: false }, tooltip: { enabled: false } },
      scales: {
        x: {
          type: "linear",
          position: "bottom",
          min: p.range.xMin,
          max: p.range.xMax,
          afterBuildTicks: (s: any) => {
            s.ticks = p.xTicks.map((v) => ({ value: v }));
          },
          afterFit: (s: any) => {
            s.height = p.height - 267;
          },
          grid: { display: false, drawTicks: false },
          border: { display: true, color: "#000", width: 2 },
          ticks: {
            color: "#000",
            font: { family: FONT, size: 18 },
            padding: 13,
            maxRotation: 0,
            autoSkip: false,
            callback: (v: any) => String(v),
          },
        },
        y: {
          type: "linear",
          min: p.range.yMin,
          max: p.range.yMax,
          afterBuildTicks: (s: any) => {
            s.ticks = p.yTicks.map((v) => ({ value: v }));
          },
          afterFit: (s: any) => {
            s.width = 83;
          },
          grid: {
            display: true,
            drawOnChartArea: false,
            drawTicks: true,
            tickLength: 6,
            tickColor: "#000",
            tickWidth: 1.5,
          },
          border: { display: true, color: "#000", width: 2 },
          ticks: {
            color: "#000",
            font: { family: FONT, size: 18 },
            padding: 2,
            callback: (v: any) => fmt(Number(v)),
          },
        },
      },
    },
  };
}

function Panel({ spec }: { spec: PanelSpec }) {
  const ref = useRef<HTMLCanvasElement>(null);
  useEffect(() => {
    if (!ref.current) return;
    const chart = new Chart(ref.current, buildConfig(spec));
    return () => chart.destroy();
  }, [spec]);
  return (
    <canvas
      ref={ref}
      width={470}
      height={spec.height}
      style={{ position: "absolute", left: 0, top: spec.top, width: 470, height: spec.height }}
    />
  );
}

export default function App() {
  return (
    <div style={{ position: "absolute", left: 0, top: 0, width: 470, height: 1023, background: "#fff" }}>
      {panels.map((p, i) => (
        <Panel key={i} spec={p} />
      ))}
    </div>
  );
}
